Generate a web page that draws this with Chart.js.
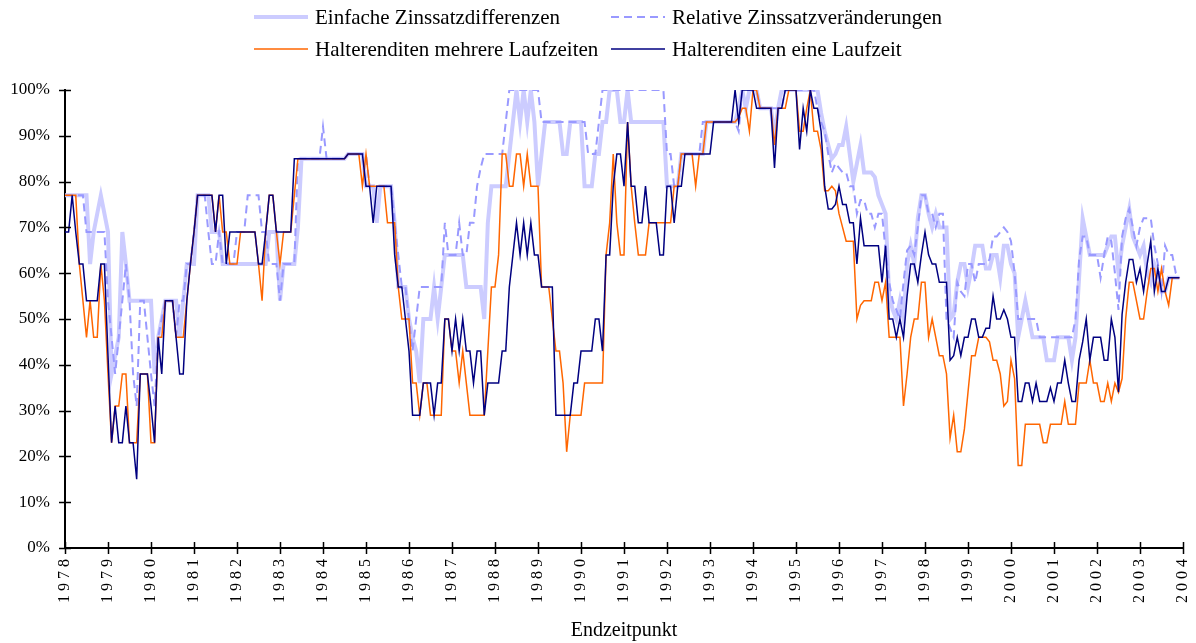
<!DOCTYPE html>
<html>
<head>
<meta charset="utf-8">
<script src="https://cdn.jsdelivr.net/npm/chart.js@4.4.1/dist/chart.umd.min.js"></script>
<style>
html, body { margin: 0; padding: 0; background: #fff; }
</style>
</head>
<body>
<canvas id="chart" width="1196" height="643"></canvas>
<script>
// monthly values (%), starting January 1978
var startYear = 1978;

var einfache = [
	77, 77, 77, 77, 77, 77, 77, 62, 69, 73, 77, 73,
	69, 38, 42, 46, 69, 62, 54, 54, 54, 54, 54, 54,
	54, 38, 46, 50, 54, 54, 54, 54, 46, 54, 62, 62,
	62, 77, 77, 77, 77, 69, 69, 69, 62, 62, 62, 62,
	62, 62, 62, 62, 62, 62, 62, 62, 62, 69, 69, 69,
	54, 62, 62, 62, 62, 70, 85, 85, 85, 85, 85, 85,
	85, 85, 85, 85, 85, 85, 85, 86, 86, 86, 86, 86,
	79, 79, 79, 71, 79, 79, 79, 79, 71, 57, 57, 57,
	50, 46, 43, 36, 50, 50, 50, 57, 50, 57, 64, 64,
	64, 64, 64, 64, 57, 57, 57, 57, 57, 50, 71, 79,
	79, 79, 79, 79, 86, 93, 100, 93, 100, 93, 100, 93,
	79, 86, 93, 93, 93, 93, 93, 86, 86, 93, 93, 93,
	93, 79, 79, 79, 86, 86, 93, 93, 100, 100, 100, 93,
	93, 100, 93, 93, 93, 93, 93, 93, 93, 93, 93, 93,
	79, 79, 79, 79, 86, 86, 86, 86, 86, 86, 86, 93,
	93, 93, 93, 93, 93, 93, 93, 93, 96, 100, 96, 100,
	100, 100, 96, 96, 96, 96, 90, 96, 100, 100, 100, 100,
	100, 100, 100, 100, 100, 100, 100, 95, 91, 88, 85, 86,
	88, 88, 92, 86, 80, 84, 88, 82, 82, 82, 81, 77,
	75, 73, 55, 52, 50, 54, 50, 62, 66, 62, 72, 77,
	77, 73, 70, 73, 70, 70, 70, 50, 51, 58, 62, 62,
	57, 61, 66, 66, 66, 61, 61, 64, 64, 59, 66, 66,
	62, 60, 46, 50, 54, 50, 46, 46, 46, 46, 41, 41,
	41, 46, 46, 46, 46, 41, 46, 59, 72, 68, 64, 64,
	64, 64, 64, 66, 68, 68, 60, 66, 70, 74, 68, 66,
	64, 66, 60, 58, 62, 60, 56, 56, 59, 59, 59, 59
];

var relative = [
	77, 77, 77, 77, 77, 77, 69, 69, 69, 69, 69, 69,
	54, 46, 38, 46, 54, 62, 54, 38, 31, 54, 54, 46,
	38, 31, 46, 50, 54, 54, 54, 46, 54, 54, 62, 62,
	69, 77, 77, 77, 69, 62, 62, 69, 62, 62, 62, 62,
	69, 69, 69, 77, 77, 77, 77, 69, 69, 62, 62, 62,
	54, 62, 62, 62, 62, 85, 85, 85, 85, 85, 85, 85,
	92, 85, 85, 85, 85, 85, 85, 86, 86, 86, 86, 86,
	86, 79, 79, 79, 79, 79, 79, 79, 71, 64, 57, 57,
	50, 43, 50, 57, 57, 57, 57, 57, 57, 57, 71, 64,
	64, 64, 71, 64, 64, 71, 71, 79, 83, 86, 86, 86,
	86, 86, 86, 93, 100, 100, 100, 100, 100, 100, 100, 100,
	100, 93, 93, 93, 93, 93, 93, 93, 93, 93, 93, 93,
	93, 93, 86, 86, 86, 93, 100, 100, 100, 100, 100, 100,
	100, 100, 100, 100, 100, 100, 100, 100, 100, 100, 100, 100,
	86, 86, 79, 79, 86, 86, 86, 86, 86, 86, 93, 93,
	93, 93, 93, 93, 93, 93, 93, 93, 91, 100, 100, 100,
	100, 100, 96, 96, 96, 96, 96, 96, 96, 100, 100, 100,
	100, 100, 100, 100, 100, 100, 96, 93, 91, 86, 82, 84,
	83, 82, 82, 79, 79, 73, 76, 76, 73, 73, 70, 73,
	73, 65, 58, 54, 52, 50, 58, 65, 66, 64, 70, 77,
	77, 73, 73, 70, 73, 73, 50, 48, 46, 58, 56, 55,
	62, 62, 58, 62, 62, 62, 63, 68, 68, 69, 70, 69,
	67, 60, 50, 50, 50, 50, 50, 50, 46, 46, 46, 46,
	46, 46, 46, 46, 46, 46, 50, 63, 68, 68, 64, 64,
	64, 59, 64, 68, 67, 60, 52, 68, 72, 74, 70, 66,
	70, 72, 72, 72, 66, 62, 56, 66, 64, 64, 60, 59
];

var mehrere = [
	77, 77, 77, 77, 62, 54, 46, 54, 46, 46, 62, 54,
	38, 23, 31, 31, 38, 38, 23, 23, 23, 38, 38, 38,
	23, 23, 46, 46, 54, 54, 54, 46, 46, 46, 54, 62,
	69, 77, 77, 77, 77, 77, 69, 77, 69, 69, 62, 62,
	62, 69, 69, 69, 69, 69, 62, 54, 69, 77, 77, 69,
	62, 69, 69, 69, 77, 85, 85, 85, 85, 85, 85, 85,
	85, 85, 85, 85, 85, 85, 85, 86, 86, 86, 86, 79,
	86, 79, 79, 79, 79, 79, 71, 71, 71, 57, 50, 50,
	50, 36, 36, 29, 36, 36, 29, 29, 29, 29, 50, 50,
	43, 43, 36, 43, 36, 29, 29, 29, 29, 29, 43, 57,
	57, 64, 86, 86, 79, 79, 86, 86, 79, 86, 79, 79,
	79, 57, 57, 57, 50, 43, 43, 36, 21, 29, 29, 29,
	29, 36, 36, 36, 36, 36, 36, 64, 71, 86, 71, 64,
	64, 93, 79, 71, 64, 64, 64, 71, 71, 71, 71, 71,
	71, 71, 79, 79, 86, 86, 86, 86, 79, 86, 86, 93,
	93, 93, 93, 93, 93, 93, 93, 93, 94, 96, 96, 91,
	100, 100, 96, 96, 96, 96, 88, 96, 96, 96, 100, 100,
	100, 91, 91, 96, 100, 91, 91, 87, 78, 78, 79, 78,
	73, 70, 67, 67, 67, 50, 53, 54, 54, 54, 58, 58,
	54, 58, 46, 46, 46, 46, 31, 38, 46, 50, 50, 58,
	58, 46, 50, 46, 42, 42, 38, 24, 29, 21, 21, 26,
	34, 42, 42, 46, 46, 46, 45, 41, 41, 38, 31, 32,
	41, 37, 18, 18, 27, 27, 27, 27, 27, 23, 23, 27,
	27, 27, 27, 32, 27, 27, 27, 36, 36, 36, 41, 36,
	36, 32, 32, 36, 32, 36, 34, 37, 50, 58, 58, 54,
	50, 50, 56, 61, 61, 56, 61, 56, 53, 59, 59, 59
];

var eine = [
	69, 69, 77, 69, 62, 62, 54, 54, 54, 54, 62, 62,
	42, 23, 31, 23, 23, 31, 23, 23, 15, 38, 38, 38,
	31, 23, 46, 38, 54, 54, 54, 46, 38, 38, 54, 62,
	69, 77, 77, 77, 77, 77, 69, 77, 77, 62, 69, 69,
	69, 69, 69, 69, 69, 69, 62, 62, 69, 77, 77, 69,
	69, 69, 69, 69, 85, 85, 85, 85, 85, 85, 85, 85,
	85, 85, 85, 85, 85, 85, 85, 86, 86, 86, 86, 86,
	79, 79, 71, 79, 79, 79, 79, 79, 64, 57, 57, 50,
	43, 29, 29, 29, 36, 36, 36, 29, 36, 36, 50, 50,
	43, 50, 43, 50, 43, 43, 36, 43, 43, 29, 36, 36,
	36, 36, 43, 43, 57, 64, 71, 64, 71, 64, 71, 64,
	64, 57, 57, 57, 57, 29, 29, 29, 29, 29, 36, 36,
	43, 43, 43, 43, 50, 50, 43, 64, 64, 79, 86, 86,
	79, 93, 79, 79, 71, 71, 79, 71, 71, 71, 64, 64,
	79, 79, 71, 79, 79, 86, 86, 86, 86, 86, 86, 86,
	86, 93, 93, 93, 93, 93, 93, 100, 93, 100, 100, 100,
	100, 96, 96, 96, 96, 96, 83, 96, 96, 100, 100, 100,
	100, 87, 96, 91, 100, 96, 96, 91, 79, 74, 74, 75,
	79, 75, 75, 71, 71, 62, 72, 66, 66, 66, 66, 66,
	58, 66, 50, 50, 46, 50, 46, 55, 62, 62, 58, 64,
	69, 64, 62, 62, 58, 58, 58, 41, 42, 46, 42, 46,
	46, 50, 50, 46, 46, 48, 48, 55, 50, 50, 52, 50,
	46, 46, 32, 32, 36, 36, 32, 36, 32, 32, 32, 35,
	32, 36, 36, 41, 36, 32, 32, 41, 45, 50, 41, 46,
	46, 46, 41, 41, 50, 46, 34, 51, 58, 63, 63, 58,
	61, 56, 62, 67, 56, 61, 56, 56, 59, 59, 59, 59
];

var seriesNames = [
	'Einfache Zinssatzdifferenzen',
	'Relative Zinssatzveränderungen',
	'Halterenditen mehrere Laufzeiten',
	'Halterenditen eine Laufzeit'
];

var axisTitle = 'Endzeitpunkt';

function toPoints(values) {
	return values.map(function(v, i) {
		return { x: startYear + i / 12, y: v };
	});
}

// tick marks crossing both axes
var crossTicks = {
	id: 'crossTicks',
	afterDraw: function(chart) {
		var ctx = chart.ctx;
		var area = chart.chartArea;
		var xs = chart.scales.x, ys = chart.scales.y;
		ctx.save();
		ctx.strokeStyle = '#000';
		ctx.lineWidth = 1.5;
		ctx.beginPath();
		ys.ticks.forEach(function(t) {
			var py = Math.round(ys.getPixelForValue(t.value)) + 0.5;
			ctx.moveTo(area.left - 6, py);
			ctx.lineTo(area.left + 6, py);
		});
		xs.ticks.forEach(function(t) {
			var px = Math.round(xs.getPixelForValue(t.value)) + 0.5;
			ctx.moveTo(px, area.bottom - 6);
			ctx.lineTo(px, area.bottom + 6);
		});
		ctx.stroke();
		ctx.restore();
	}
};

// two by two legend above the plot
var tableLegend = {
	id: 'tableLegend',
	afterDraw: function(chart) {
		var ctx = chart.ctx;
		var cols = [254, 611];
		var rows = [17, 49];
		ctx.save();
		ctx.font = '21px "Liberation Serif", "Times New Roman", serif';
		ctx.textBaseline = 'middle';
		ctx.fillStyle = '#000';
		chart.data.datasets.forEach(function(ds, k) {
			var x = cols[k % 2], y = rows[Math.floor(k / 2)];
			ctx.strokeStyle = ds.borderColor;
			ctx.lineWidth = ds.borderWidth;
			ctx.setLineDash(ds.borderDash || []);
			ctx.beginPath();
			ctx.moveTo(x, y);
			ctx.lineTo(x + 54, y);
			ctx.stroke();
			ctx.setLineDash([]);
			ctx.fillText(ds.label, x + 61, y + 1);
		});
		ctx.restore();
	}
};

var ctx = document.getElementById('chart').getContext('2d');

var chart = new Chart(ctx, {
	type: 'line',
	data: {
		datasets: [
		{
			label: seriesNames[0],
			data: toPoints(einfache),
			borderColor: '#ccccff',
			borderWidth: 4,
			order: 4
		},
		{
			label: seriesNames[1],
			data: toPoints(relative),
			borderColor: '#9999ff',
			borderWidth: 2,
			borderDash: [8, 5],
			order: 3
		},
		{
			label: seriesNames[2],
			data: toPoints(mehrere),
			borderColor: '#ff6600',
			borderWidth: 1.5,
			order: 2
		},
		{
			label: seriesNames[3],
			data: toPoints(eine),
			borderColor: '#000080',
			borderWidth: 1.5,
			order: 1
		}]
	},
	options: {
		responsive: false,
		animation: false,
		devicePixelRatio: 1,
		elements: {
			point: { radius: 0 },
			line: { tension: 0, fill: false }
		},
		layout: {
			padding: { top: 90, right: 0, left: 0, bottom: 0 }
		},
		plugins: {
			legend: { display: false },
			tooltip: { enabled: false }
		},
		scales: {
			x: {
				type: 'linear',
				min: 1978,
				max: 2004,
				grid: { display: false, drawTicks: false },
				border: { display: true, color: '#000', width: 2 },
				ticks: {
					stepSize: 1,
					autoSkip: false,
					maxTicksLimit: 40,
					maxRotation: 90,
					minRotation: 90,
					padding: 7,
					color: '#000',
					font: { family: '"Liberation Serif", serif', size: 16 },
					callback: function(v) { return String(v); }
				},
				title: {
					display: true,
					text: axisTitle,
					color: '#000',
					font: { family: '"Liberation Serif", serif', size: 20 },
					padding: { top: 4, bottom: 0 }
				},
				afterFit: function(scale) {
					scale.height = 95;
					scale.paddingLeft = 0;
					scale.paddingRight = 13;
					if (!scale._spaced) {
						var draw = scale.drawLabels;
						scale.drawLabels = function(area) {
							this.ctx.save();
							this.ctx.letterSpacing = '4px';
							draw.call(this, area);
							this.ctx.restore();
						};
						scale._spaced = true;
					}
				}
			},
			y: {
				min: 0,
				max: 100,
				grid: { display: false, drawTicks: false },
				border: { display: true, color: '#000', width: 2 },
				ticks: {
					stepSize: 5,
					maxTicksLimit: 40,
					padding: 15,
					color: '#000',
					font: { family: '"Liberation Serif", serif', size: 17 },
					callback: function(v) { return v % 10 === 0 ? v + '%' : ''; }
				},
				afterFit: function(scale) {
					scale.width = 65;
				}
			}
		}
	},
	plugins: [crossTicks, tableLegend]
});
chart.draw();
</script>
</body>
</html>
